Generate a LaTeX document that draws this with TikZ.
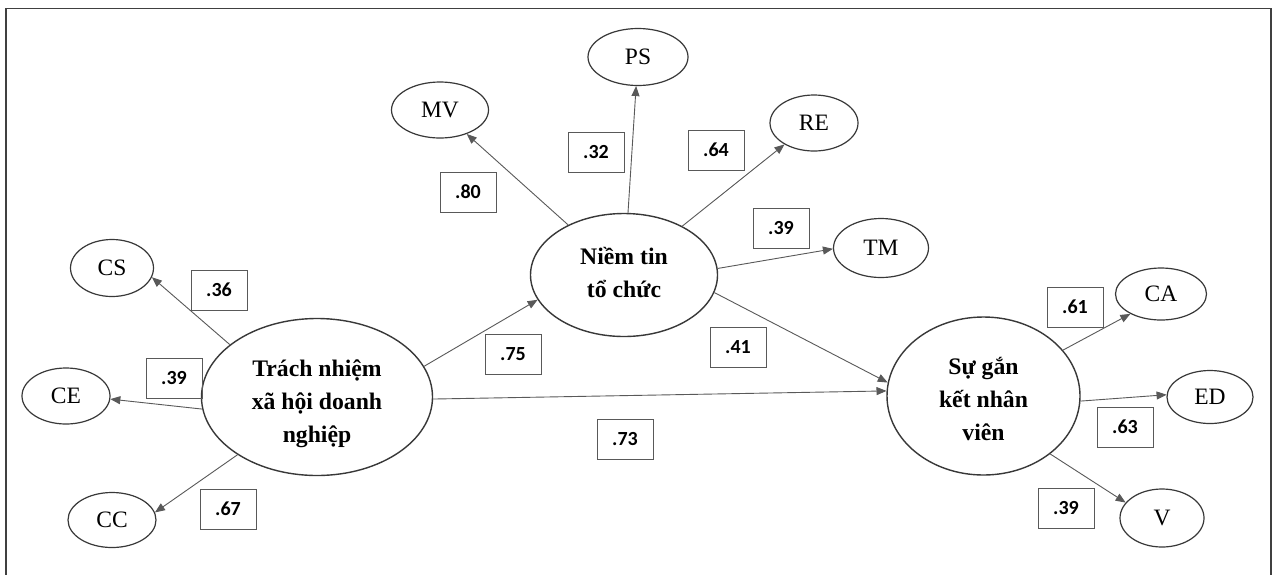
\documentclass[tikz,border=0pt]{standalone}
\usepackage{fontspec}
\setmainfont{Liberation Serif}
\newfontfamily\numfont{Carlito}
\usetikzlibrary{shapes.geometric,arrows.meta}

% centred multi-line label that does not enlarge its ellipse
\newcommand\ctext[2][-6pt]{\makebox[0pt]{\raisebox{#1}[0pt][0pt]{\begin{tabular}{@{}c@{}}#2\end{tabular}}}}

\tikzset{
  lat/.style={ellipse, draw=black!78, line width=1.4pt, inner sep=0pt,
    font=\fontsize{23.7}{33}\selectfont\bfseries},
  ind/.style={ellipse, draw=black!78, line width=1.2pt, inner sep=0pt,
    font=\fontsize{23.5}{28}\selectfont},
  coef/.style={draw=black!65, line width=0.8pt, minimum width=56pt,
    minimum height=40pt, inner sep=0pt,
    font=\numfont\bfseries\fontsize{20}{24}\selectfont},
  link/.style={draw=black!65, line width=0.9pt,
    -{Triangle[length=10pt,width=8pt]}},
}

\begin{document}
\begin{tikzpicture}[x=1pt,y=-1pt]
\useasboundingbox (0,0) rectangle (1273,574);
\fill[white] (0,0) rectangle (1273,574);

% open frame (bottom edge outside the page)
\draw[black!75, line width=1.5pt] (6,580) -- (6,8.5) -- (1271,8.5) -- (1271,580);

% latent constructs
\node[lat, minimum width=231pt, minimum height=157pt] (trach) at (317,397)
  {\ctext[-12pt]{Trách nhiệm\\xã hội doanh\\nghiệp}};
\node[lat, minimum width=187pt, minimum height=123pt] (niem) at (624,275)
  {\ctext{Niềm tin\\tổ chức}};
\node[lat, minimum width=193pt, minimum height=158pt] (sug) at (983.5,396)
  {\ctext[-11pt]{Sự gắn\\kết nhân\\viên}};

% indicators
\node[ind, minimum width=97pt,  minimum height=56pt] (mv) at (440,110) {MV};
\node[ind, minimum width=100pt, minimum height=57pt] (ps) at (638,57)  {PS};
\node[ind, minimum width=88pt,  minimum height=56pt] (re) at (814,123) {RE};
\node[ind, minimum width=95pt,  minimum height=59pt] (tm) at (881,248) {TM};
\node[ind, minimum width=83pt,  minimum height=57pt] (cs) at (112,268) {CS};
\node[ind, minimum width=88pt,  minimum height=56pt] (ce) at (66,396)  {CE};
\node[ind, minimum width=88pt,  minimum height=55pt] (cc) at (112,520) {CC};
\node[ind, minimum width=91pt,  minimum height=52pt] (ca) at (1161,294) {CA};
\node[ind, minimum width=86pt,  minimum height=53pt] (ed) at (1210,397) {ED};
\node[ind, minimum width=84pt,  minimum height=58pt] (v)  at (1162,518) {V};

% paths
\draw[link] (niem) -- (mv);
\draw[link] (niem) -- (ps);
\draw[link] (niem.40) -- (re.216);
\draw[link] (niem.4) -- (tm.181);
\draw[link] (trach.149) -- (cs.-13);
\draw[link] (trach.186) -- (ce.-4);
\draw[link] (trach.216) -- (cc.10);
\draw[link] (trach.16) -- (niem.196);
\draw[link] (niem.-11) -- (sug.172);
\draw[link] (trach.-1.5) -- (sug.177.5);
\draw[link] (sug.30) -- (ca.213);
\draw[link] (sug.-3.5) -- (ed.177);
\draw[link] (sug.-41.5) -- (v.157);

% coefficients
\node[coef] (k80) at (468,192) {.80};
\node[coef] (k32) at (596,152) {.32};
\node[coef] (k64) at (716,150) {.64};
\node[coef] (k39t) at (781,228) {.39};
\node[coef] (k36) at (219,290) {.36};
\node[coef] (k39e) at (174,378) {.39};
\node[coef] (k67) at (228,509) {.67};
\node[coef] (k75) at (513,354) {.75};
\node[coef] (k41) at (738,347) {.41};
\node[coef] (k73) at (625,439) {.73};
\node[coef] (k61) at (1075,307) {.61};
\node[coef] (k63) at (1125,427) {.63};
\node[coef] (k39v) at (1066,508) {.39};
\end{tikzpicture}
\end{document}
